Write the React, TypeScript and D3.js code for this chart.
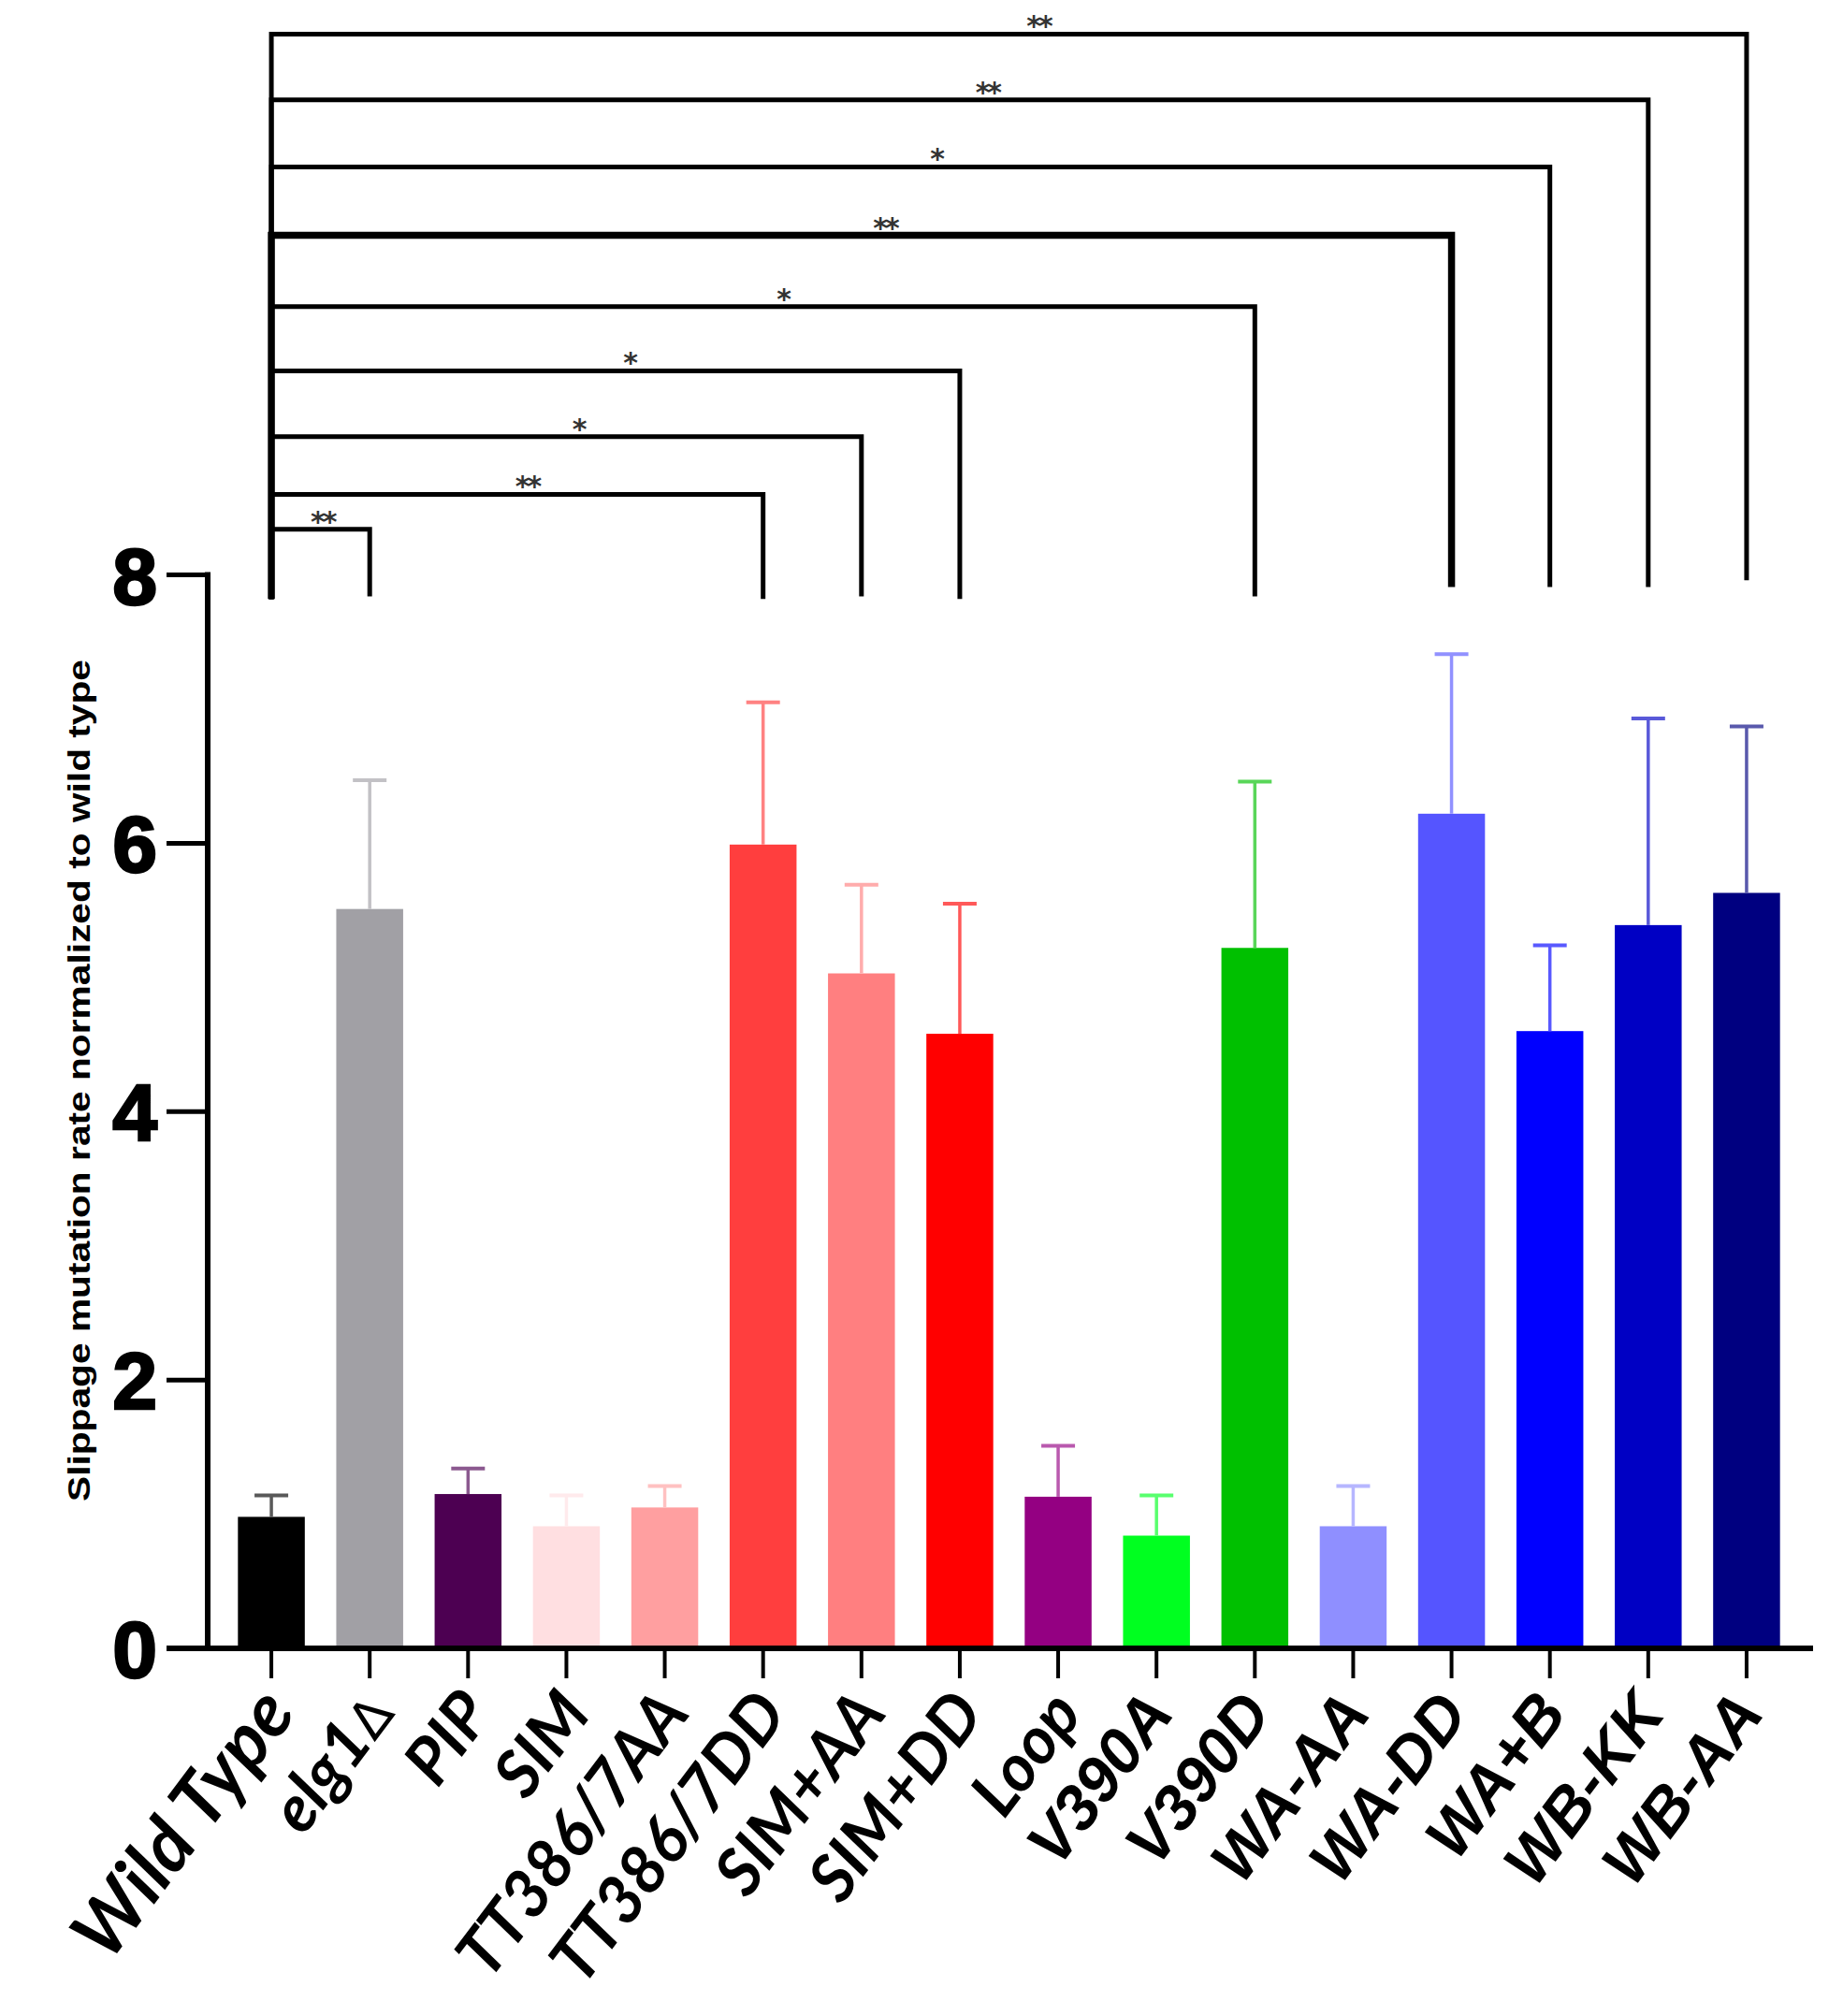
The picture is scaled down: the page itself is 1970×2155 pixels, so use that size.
import React, { useEffect, useRef } from "react";
import * as d3 from "d3";

// strains on the x axis
const categories = [
  "Wild Type", "elg1Δ", "PIP", "SIM", "TT386/7AA", "TT386/7DD", "SIM+AA", "SIM+DD",
  "Loop", "V390A", "V390D", "WA-AA", "WA-DD", "WA+B", "WB-KK", "WB-AA",
];
// mean slippage rate, normalized to wild type
const means = [0.98, 5.51, 1.15, 0.91, 1.05, 5.99, 5.03, 4.58, 1.13, 0.84, 5.22, 0.91, 6.22, 4.6, 5.39, 5.63];
// upper error (SEM)
const errors = [0.16, 0.96, 0.19, 0.23, 0.16, 1.06, 0.66, 0.97, 0.38, 0.3, 1.24, 0.3, 1.19, 0.64, 1.54, 1.24];
const barColors = [
  "#000000", "#a1a0a5", "#4d0052", "#ffdfe1", "#ff9fa0", "#ff3e3e", "#ff7f80", "#ff0000",
  "#940082", "#00ff20", "#00c000", "#8f8fff", "#5555ff", "#0000ff", "#0000c4", "#000080",
];
const yTicks = [0, 2, 4, 6, 8];

// significance brackets vs wild type
const compareTo = ["WB-AA", "WB-KK", "WA+B", "WA-DD", "V390D", "SIM+DD", "SIM+AA", "TT386/7DD", "elg1Δ"];
const stars = ["**", "**", "*", "**", "*", "*", "*", "**", "**"];
const bracketLevel = [12.03, 11.54, 11.04, 10.53, 10.0, 9.52, 9.03, 8.6, 8.34];
const legEnd = [7.96, 7.91, 7.91, 7.91, 7.84, 7.82, 7.84, 7.82, 7.84];

export default function App() {
  const ref = useRef<SVGSVGElement>(null);

  useEffect(() => {
    document.body.style.margin = "0";
    const svg = d3.select(ref.current);
    svg.selectAll("*").remove();

    const x = d3.scaleBand<string>()
      .domain(categories)
      .range([237.5, 1919.5])
      .paddingInner(0.32)
      .paddingOuter(0.16);
    const cx = (c: string) => (x(c) as number) + x.bandwidth() / 2;

    const y = d3.scaleLinear().domain([0, 8]).range([1762, 614.5]);

    // bars
    svg.append("g")
      .selectAll("rect")
      .data(categories)
      .join("rect")
      .attr("x", (d) => x(d) as number)
      .attr("width", x.bandwidth())
      .attr("y", (d, i) => y(means[i]))
      .attr("height", (d, i) => y(0) - y(means[i]))
      .attr("fill", (d, i) => barColors[i]);

    // error bars (upper only)
    const errColor = (i: number) => d3.interpolateRgb(barColors[i], "#ffffff")(0.35);
    const eb = svg.append("g").selectAll("g").data(categories).join("g");
    eb.append("line")
      .attr("x1", (d) => cx(d)).attr("x2", (d) => cx(d))
      .attr("y1", (d, i) => y(means[i]))
      .attr("y2", (d, i) => y(means[i] + errors[i]))
      .attr("stroke", (d, i) => errColor(i))
      .attr("stroke-width", 3.5);
    eb.append("line")
      .attr("x1", (d) => cx(d) - 18).attr("x2", (d) => cx(d) + 18)
      .attr("y1", (d, i) => y(means[i] + errors[i]))
      .attr("y2", (d, i) => y(means[i] + errors[i]))
      .attr("stroke", (d, i) => errColor(i))
      .attr("stroke-width", 4);

    // axes
    const axis = svg.append("g").attr("stroke", "#000");
    axis.append("line")
      .attr("x1", 222).attr("x2", 222)
      .attr("y1", y(8) - 3).attr("y2", y(0))
      .attr("stroke-width", 6);
    axis.append("line")
      .attr("x1", 178).attr("x2", 1938)
      .attr("y1", y(0)).attr("y2", y(0))
      .attr("stroke-width", 6);
    axis.selectAll("line.yt")
      .data(yTicks)
      .join("line")
      .attr("class", "yt")
      .attr("x1", 178).attr("x2", 222)
      .attr("y1", (d) => y(d)).attr("y2", (d) => y(d))
      .attr("stroke-width", 5);
    axis.selectAll("line.xt")
      .data(categories)
      .join("line")
      .attr("class", "xt")
      .attr("x1", (d) => cx(d)).attr("x2", (d) => cx(d))
      .attr("y1", y(0)).attr("y2", y(0) + 32)
      .attr("stroke-width", 4);

    svg.append("g")
      .selectAll("text")
      .data(yTicks)
      .join("text")
      .attr("x", 168)
      .attr("y", (d) => y(d) + 31)
      .attr("text-anchor", "end")
      .attr("font-family", "Liberation Sans, Arial, sans-serif")
      .attr("font-weight", "bold")
      .attr("font-size", 86)
      .attr("stroke", "#000")
      .attr("stroke-width", 2.5)
      .text((d) => d);

    // y axis title
    svg.append("text")
      .attr("transform", "translate(96,1155) rotate(-90)")
      .attr("text-anchor", "middle")
      .attr("font-family", "Liberation Sans Narrow, Liberation Sans, Arial, sans-serif")
      .attr("font-weight", "bold")
      .attr("font-size", 34)
      .attr("textLength", 900)
      .attr("lengthAdjust", "spacingAndGlyphs")
      .text("Slippage mutation rate normalized to wild type");

    // category labels: first nine in a humanist face, the rest in Arial-style
    const labels = svg.append("g")
      .selectAll("text")
      .data(categories)
      .join("text")
      .attr("transform", (d, i) => `translate(${cx(d) + (i < 9 ? 28 : 20)},${y(0) + 70}) rotate(-53)`)
      .attr("text-anchor", "end")
      .attr("font-family", (d, i) => (i < 9 ? "Lato, Open Sans, sans-serif" : "Liberation Sans, Arial, sans-serif"))
      .attr("font-style", "italic")
      .attr("font-weight", "bold")
      .attr("font-size", (d, i) => (i === 0 ? 80 : i < 9 ? 70 : 68));
    labels.each(function (d) {
      const t = d3.select(this);
      if (d === "elg1Δ") {
        t.append("tspan").text("elg1");
        t.append("tspan").attr("font-weight", "normal").attr("font-style", "normal").attr("font-family", "DejaVu Sans").attr("font-size", 56).text("Δ");
      } else {
        t.text(d);
      }
    });

    // significance brackets
    const x0 = cx("Wild Type");
    const br = svg.append("g").attr("fill", "none").attr("stroke", "#000");
    compareTo.forEach((c, i) => {
      const x1 = cx(c);
      const yl = y(bracketLevel[i]);
      br.append("path")
        .attr("d", `M${x0},${y(7.82)}V${yl}H${x1}V${y(legEnd[i])}`)
        .attr("stroke-width", i === 3 ? 7.5 : 5)
        .attr("stroke-linejoin", "miter");
      svg.append("text")
        .attr("x", x0 + (x1 - x0) * 0.52)
        .attr("y", yl + 2)
        .attr("text-anchor", "middle")
        .attr("font-family", "DejaVu Sans, sans-serif")
        .attr("font-weight", "bold")
        .attr("font-size", 30)
        .attr("letter-spacing", -3)
        .attr("fill", "#333")
        .text(stars[i]);
    });
  }, []);

  return <svg ref={ref} width={1970} height={2155} style={{ display: "block", background: "#fff" }} />;
}
